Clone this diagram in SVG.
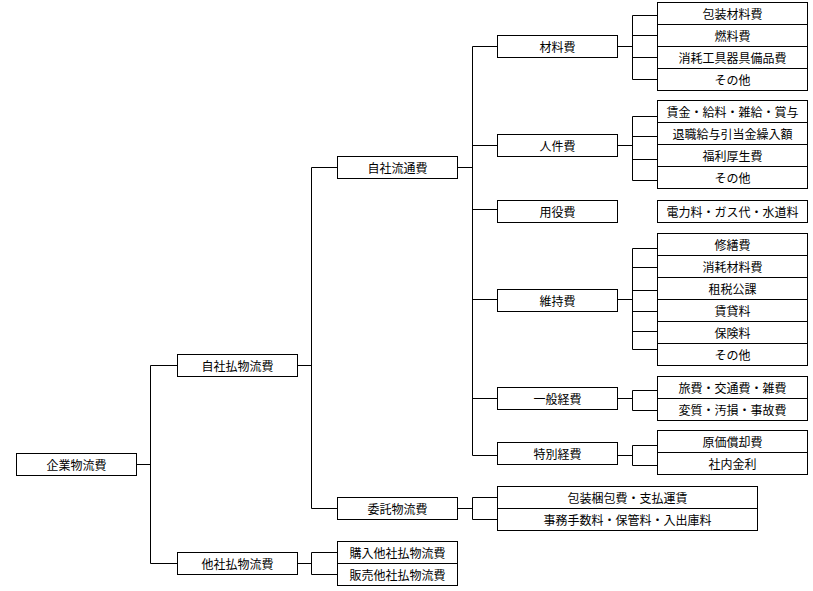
<svg xmlns="http://www.w3.org/2000/svg" width="813" height="591" viewBox="0 0 813 591">
<style>
rect{fill:#fff;stroke:#000;stroke-width:1}
.d{stroke:#000;stroke-width:1;fill:none}
text{font-family:"Noto Sans CJK JP","Liberation Sans",sans-serif;font-size:12px;fill:#000;text-anchor:middle;dominant-baseline:central}
#connectors path{stroke:#000;stroke-width:1;fill:none}
</style>
<rect x="0" y="0" width="813" height="591" style="stroke:none"/>
<g id="connectors">
<path d="M137 464.5H150.5M150.5 365.5V563.5M150.5 365.5H177M150.5 563.5H177"/>
<path d="M297.5 365.5H311.5M311.5 167.5V508.5M311.5 167.5H337M311.5 508.5H337"/>
<path d="M297.5 563.5H311.5M311.5 552.5V574.5M311.5 552.5H337M311.5 574.5H337"/>
<path d="M457.5 167.5H472.5M472.5 46.5V455.5M472.5 46.5H497M472.5 145.5H497M472.5 209.5H497M472.5 299.5H497M472.5 398.5H497M472.5 455.5H497"/>
<path d="M457.5 508.5H472.5M472.5 497.5V519.5M472.5 497.5H497M472.5 519.5H497"/>
<path d="M617.5 46.5H632.5M632.5 15.5V79.5M632.5 15.5H657M632.5 35.5H657M632.5 57.5H657M632.5 79.5H657"/>
<path d="M617.5 145.5H632.5M632.5 116.5V180.5M632.5 116.5H657M632.5 136.5H657M632.5 159.5H657M632.5 180.5H657"/>
<path d="M617.5 299.5H632.5M632.5 248.5V349.5M632.5 248.5H657M632.5 267.5H657M632.5 290.5H657M632.5 311.5H657M632.5 331.5H657M632.5 349.5H657"/>
<path d="M617.5 398.5H632.5M632.5 390.5V410.5M632.5 390.5H657M632.5 410.5H657"/>
<path d="M617.5 455.5H632.5M632.5 445.5V465.5M632.5 445.5H657M632.5 465.5H657"/>
</g>
<g id="n-kigyo"><rect x="16.5" y="453.5" width="120" height="22"/><text x="76.5" y="464.5">企業物流費</text></g>
<g id="n-jishabarai"><rect x="177.5" y="354.5" width="120" height="22"/><text x="237.5" y="365.5">自社払物流費</text></g>
<g id="n-tashabarai"><rect x="177.5" y="552.5" width="120" height="22"/><text x="237.5" y="563.5">他社払物流費</text></g>
<g id="n-jisharyutsu"><rect x="337.5" y="156.5" width="120" height="22"/><text x="397.5" y="167.5">自社流通費</text></g>
<g id="n-itaku"><rect x="337.5" y="497.5" width="120" height="22"/><text x="397.5" y="508.5">委託物流費</text></g>
<g id="n-tasha-sub"><rect x="337.5" y="541.5" width="120" height="44"/><path class="d" d="M337.5 563.5H457.5"/><text x="397.5" y="552.5">購入他社払物流費</text><text x="397.5" y="574.5">販売他社払物流費</text></g>
<g id="n-zairyo"><rect x="497.5" y="35.5" width="120" height="22"/><text x="557.5" y="46.5">材料費</text></g>
<g id="n-jinken"><rect x="497.5" y="134.5" width="120" height="22"/><text x="557.5" y="145.5">人件費</text></g>
<g id="n-yoeki"><rect x="497.5" y="200.5" width="120" height="22"/><text x="557.5" y="211.5">用役費</text></g>
<g id="n-iji"><rect x="497.5" y="289.5" width="120" height="22"/><text x="557.5" y="300.5">維持費</text></g>
<g id="n-ippan"><rect x="497.5" y="387.5" width="120" height="22"/><text x="557.5" y="398.5">一般経費</text></g>
<g id="n-tokubetsu"><rect x="497.5" y="442.5" width="120" height="22"/><text x="557.5" y="453.5">特別経費</text></g>
<g id="n-itaku-sub"><rect x="497.5" y="486.5" width="260" height="44"/><path class="d" d="M497.5 508.5H757.5"/><text x="627.5" y="497.5">包装梱包費・支払運賃</text><text x="627.5" y="519.5">事務手数料・保管料・入出庫料</text></g>
<g id="n-zairyo-sub"><rect x="657.5" y="2.5" width="150" height="88"/><path class="d" d="M657.5 24.5H807.5M657.5 46.5H807.5M657.5 68.5H807.5"/><text x="732.5" y="13.5">包装材料費</text><text x="732.5" y="35.5">燃料費</text><text x="732.5" y="57.5">消耗工具器具備品費</text><text x="732.5" y="79.5">その他</text></g>
<g id="n-jinken-sub"><rect x="657.5" y="100.5" width="150" height="88"/><path class="d" d="M657.5 122.5H807.5M657.5 144.5H807.5M657.5 166.5H807.5"/><text x="732.5" y="111.5">賃金・給料・雑給・賞与</text><text x="732.5" y="133.5">退職給与引当金繰入額</text><text x="732.5" y="155.5">福利厚生費</text><text x="732.5" y="177.5">その他</text></g>
<g id="n-yoeki-sub"><rect x="657.5" y="200.5" width="150" height="22"/><text x="732.5" y="211.5">電力料・ガス代・水道料</text></g>
<g id="n-iji-sub"><rect x="657.5" y="233.5" width="150" height="132"/><path class="d" d="M657.5 255.5H807.5M657.5 277.5H807.5M657.5 299.5H807.5M657.5 321.5H807.5M657.5 343.5H807.5"/><text x="732.5" y="244.5">修繕費</text><text x="732.5" y="266.5">消耗材料費</text><text x="732.5" y="288.5">租税公課</text><text x="732.5" y="310.5">賃貸料</text><text x="732.5" y="332.5">保険料</text><text x="732.5" y="354.5">その他</text></g>
<g id="n-ippan-sub"><rect x="657.5" y="376.5" width="150" height="44"/><path class="d" d="M657.5 398.5H807.5"/><text x="732.5" y="387.5">旅費・交通費・雑費</text><text x="732.5" y="409.5">変質・汚損・事故費</text></g>
<g id="n-tokubetsu-sub"><rect x="657.5" y="430.5" width="150" height="44"/><path class="d" d="M657.5 452.5H807.5"/><text x="732.5" y="441.5">原価償却費</text><text x="732.5" y="463.5">社内金利</text></g>
</svg>
